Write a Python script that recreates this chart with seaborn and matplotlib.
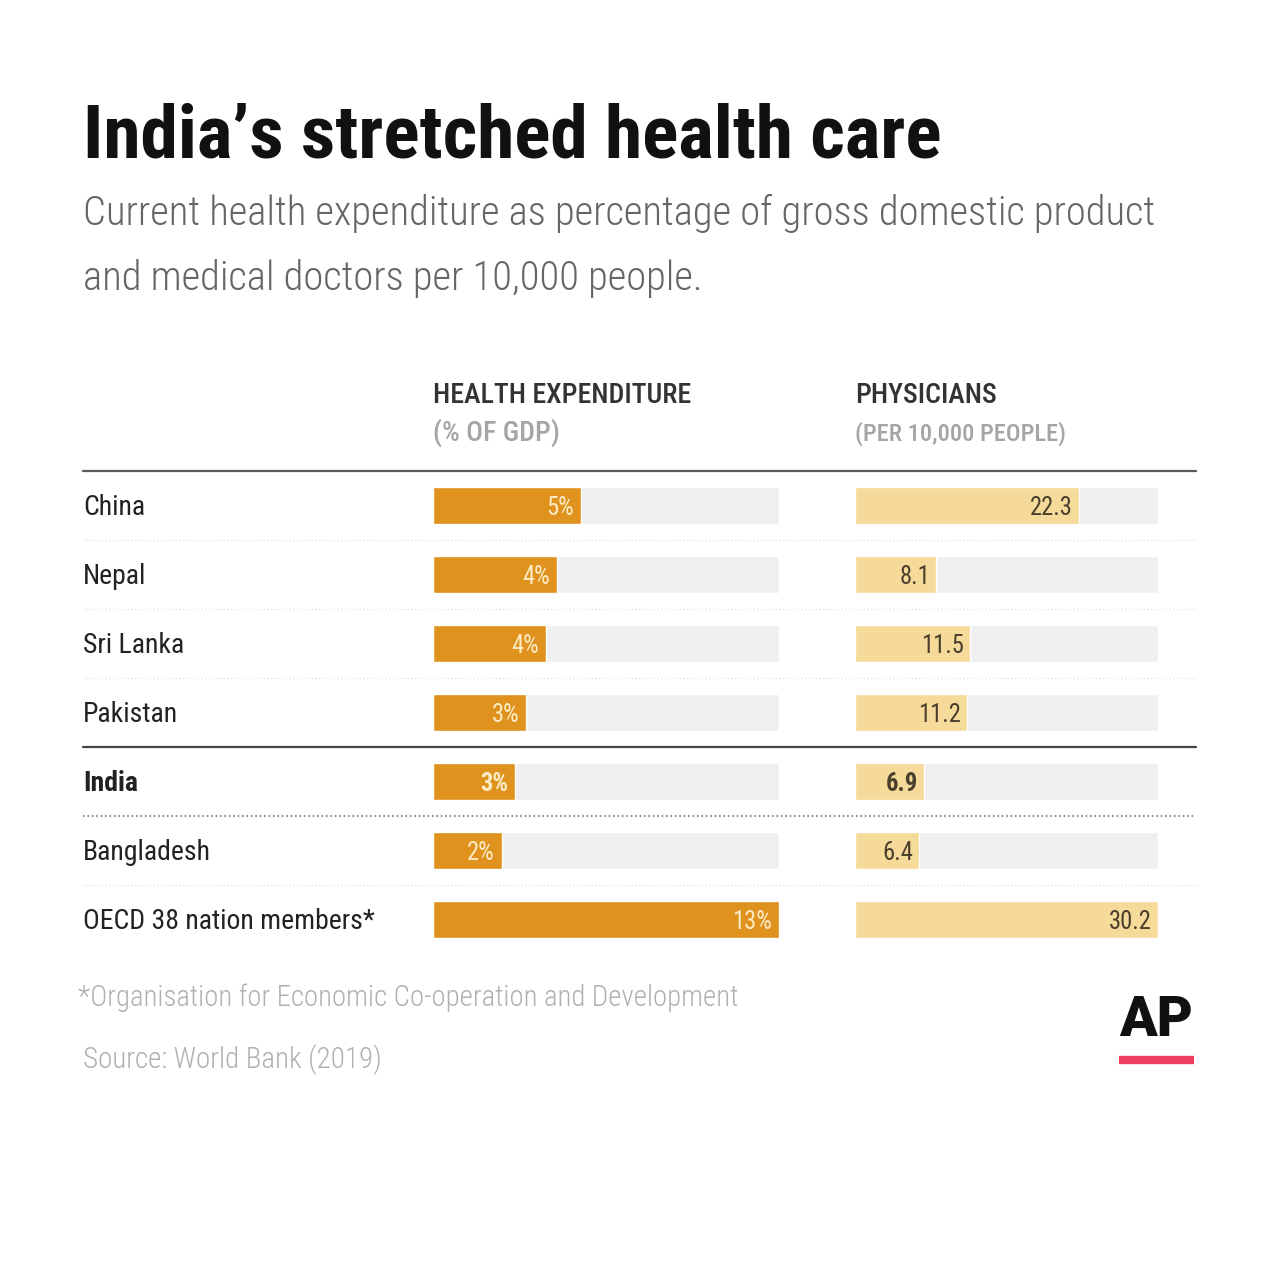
import numpy as np
import pandas as pd
import seaborn as sns
import matplotlib.pyplot as plt
from matplotlib import font_manager
from matplotlib.lines import Line2D

countries = ["China", "Nepal", "Sri Lanka", "Pakistan", "India", "Bangladesh",
             "OECD 38 nation members*"]
health_exp = [5.4, 4.5, 4.1, 3.4, 3.0, 2.5, 12.6]
health_lbl = ["5%", "4%", "4%", "3%", "3%", "2%", "13%"]
physicians = [22.3, 8.1, 11.5, 11.2, 6.9, 6.4, 30.2]
phys_lbl = ["22.3", "8.1", "11.5", "11.2", "6.9", "6.4", "30.2"]

ORANGE = "#E0921E"
TAN = "#F5DA9A"
TRACK = "#EFEFEF"

sns.set_theme(style="white")

# pick a narrow face if one is installed
names = {f.name for f in font_manager.fontManager.ttflist}
FONT = "Roboto"
for cand in ["Roboto Condensed", "Liberation Sans Narrow", "Open Sans Condensed", "Roboto"]:
    if cand in names:
        FONT = cand
        break
plt.rcParams["font.family"] = [FONT, "DejaVu Sans"]

W = H = 1280
fig = plt.figure(figsize=(12.8, 12.8), dpi=100)
fig.patch.set_facecolor("white")


def fx(x):
    return x / W


def fy(y):
    return 1 - y / H


renderer = fig.canvas.get_renderer()


def fit(t, width, maxsize):
    bb = t.get_window_extent(renderer)
    t.set_fontsize(min(maxsize, t.get_fontsize() * width / bb.width))
    return t.get_fontsize()


t = fig.text(fx(83), fy(158), "India\u2019s stretched health care", fontsize=70,
             fontweight="bold", color="#111111", va="baseline")
fit(t, 860, 70)
t1 = fig.text(fx(83), fy(225), "Current health expenditure as percentage of gross domestic product",
              fontsize=36, fontweight="light", color="#666666", va="baseline")
fit(t1, 1073, 36)
fig.text(fx(83), fy(290), "and medical doctors per 10,000 people.",
         fontsize=t1.get_fontsize(), fontweight="light", color="#666666", va="baseline")

# column headers
h1 = fig.text(fx(433), fy(403), "HEALTH EXPENDITURE", fontsize=25, fontweight="medium",
              color="#333333", va="baseline")
hs = fit(h1, 258, 25)
fig.text(fx(433), fy(441), "(% OF GDP)", fontsize=hs, fontweight="medium", color="#A5A5A5", va="baseline")
fig.text(fx(855), fy(403), "PHYSICIANS", fontsize=hs, fontweight="medium", color="#333333", va="baseline")
h4 = fig.text(fx(855), fy(441), "(PER 10,000 PEOPLE)", fontsize=hs, fontweight="medium",
              color="#A5A5A5", va="baseline")
fit(h4, 212, hs)

# rows
top, step = 471, 69
n = len(countries)
bottom = top + step * n

df = pd.DataFrame({"country": countries, "exp": health_exp, "phys": physicians})
df["exp_max"] = df["exp"].max()
df["phys_max"] = df["phys"].max()

probe = fig.text(0, 0, countries[-1], fontsize=25)
lab_size = fit(probe, 292, 25)
probe.remove()
for i, c in enumerate(countries):
    fig.text(fx(83), fy(top + step * i + step / 2 + 2), c, fontsize=lab_size,
             fontweight="bold" if c == "India" else "normal",
             color="#222222", va="center")

probe = fig.text(0, 0, "30.2", fontsize=22)
val_size = fit(probe, 43, 24)
probe.remove()

panels = [(433, 346, "exp", ORANGE, health_lbl, "#FCEBC4"),
          (855, 303, "phys", TAN, phys_lbl, "#4A3E2C")]
for left, width, col, colour, labels, tcol in panels:
    ax = fig.add_axes([fx(left), fy(bottom), width / W, (bottom - top) / H])
    sns.barplot(data=df, x=col + "_max", y="country", orient="h", color=TRACK,
                width=0.54, ax=ax, saturation=1)
    sns.barplot(data=df, x=col, y="country", orient="h", color=colour,
                width=0.54, ax=ax, saturation=1)
    ax.set_xlim(0, df[col].max())
    ax.set_ylim(n - 0.5, -0.5)
    ax.axis("off")
    for i, (v, s) in enumerate(zip(df[col], labels)):
        ax.text(v - df[col].max() * 0.02, i + 0.04, s, ha="right", va="center",
                fontsize=val_size, color=tcol,
                fontweight="bold" if countries[i] == "India" else "normal")

# rules
def hline(y, color, lw, ls):
    fig.add_artist(Line2D([fx(83), fx(1196)], [fy(y), fy(y)], color=color, lw=lw, ls=ls))

hline(top, "#5A5A5A", 1.6, "-")
for i in range(1, n):
    y = top + step * i
    if countries[i] == "India":
        hline(y, "#444444", 1.6, "-")
    elif countries[i - 1] == "India":
        hline(y, "#777777", 1.2, ":")
    else:
        hline(y, "#E2E2E2", 1.0, ":")

f1 = fig.text(fx(78), fy(1006), "*Organisation for Economic Co-operation and Development",
              fontsize=24, fontweight="light", color="#B0B0B0", va="baseline")
fit(f1, 662, 26)
f2 = fig.text(fx(83), fy(1068), "Source: World Bank (2019)", fontsize=24, fontweight="light",
              color="#B0B0B0", va="baseline")
fit(f2, 299, 26)

# AP mark
fig.text(fx(1156), fy(1036), "AP", fontsize=40, fontweight="black", family="Roboto",
         color="#111111", ha="center", va="baseline")
fig.add_artist(Line2D([fx(1119), fx(1194)], [fy(1060), fy(1060)], color="#EE3D5E", lw=6,
                      solid_capstyle="butt"))

fig.savefig("out.png", dpi=100, facecolor="white")
